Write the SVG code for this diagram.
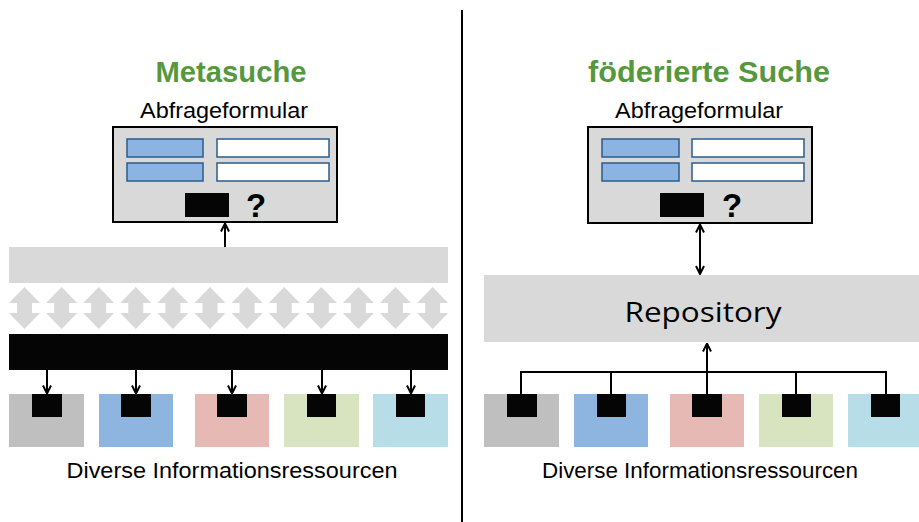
<svg xmlns="http://www.w3.org/2000/svg" width="919" height="522" viewBox="0 0 919 522">
<defs>
<style>
.title{font-family:"Liberation Sans",Arial,sans-serif;font-weight:bold;font-size:30px;fill:#55983E;text-anchor:middle}
.lbl{font-family:"Liberation Sans",Arial,sans-serif;font-size:22px;fill:#000;text-anchor:middle}
.form{fill:#D9D9D9;stroke:#000;stroke-width:2}
.fb{fill:#8DB3E2;stroke:#2A5C8C;stroke-width:1.5}
.fw{fill:#fff;stroke:#2A5C8C;stroke-width:1.5}
.blk{fill:#050505}
.q{font-family:"Liberation Sans",Arial,sans-serif;font-weight:bold;font-size:33px;fill:#000}
.conn{stroke:#000;stroke-width:2;fill:none}
.dbl{fill:#D9D9D9}
</style>
<marker id="ah" viewBox="0 0 10 10" refX="9" refY="5" markerWidth="10" markerHeight="10" markerUnits="userSpaceOnUse" orient="auto-start-reverse">
<polyline points="1,1 9,5 1,9" fill="none" stroke="#000" stroke-width="2"/>
</marker>
<path id="da" d="M0,287 L15.5,303 L7.5,303 L7.5,313 L15.5,313 L0,329 L-15.5,313 L-7.5,313 L-7.5,303 L-15.5,303 Z"/>
</defs>
<rect width="919" height="522" fill="#fff"/>

<line x1="462" y1="10" x2="462" y2="522" stroke="#000" stroke-width="2"/>

<g id="left-title"><text class="title" x="231" y="82" textLength="151" lengthAdjust="spacingAndGlyphs">Metasuche</text></g>
<g id="left-form">
<text class="lbl" x="224" y="118" textLength="168" lengthAdjust="spacingAndGlyphs">Abfrageformular</text>
<rect class="form" x="113" y="127" width="224" height="95"/>
<rect class="fb" x="127" y="139" width="76" height="18"/>
<rect class="fb" x="127" y="163" width="76" height="18"/>
<rect class="fw" x="217" y="139" width="112" height="18"/>
<rect class="fw" x="217" y="163" width="112" height="18"/>
<rect class="blk" x="185" y="193" width="44" height="24"/>
<text class="q" x="246" y="217">?</text>
</g>
<g id="left-band"><rect fill="#D9D9D9" x="9" y="247" width="439" height="36"/></g>
<g id="left-arrows" class="dbl">
<use href="#da" x="24.5"/><use href="#da" x="61.6"/><use href="#da" x="98.7"/><use href="#da" x="135.8"/>
<use href="#da" x="172.9"/><use href="#da" x="210"/><use href="#da" x="247.1"/><use href="#da" x="284.2"/>
<use href="#da" x="321.3"/><use href="#da" x="358.4"/><use href="#da" x="395.5"/><use href="#da" x="432.6"/>
</g>
<g id="left-bar"><rect class="blk" x="9" y="334" width="439" height="36"/></g>
<g id="left-src1"><rect fill="#BFBFBF" x="9" y="394" width="75" height="53"/><rect class="blk" x="32" y="394" width="30" height="23"/></g>
<g id="left-src2"><rect fill="#8EB4E0" x="99" y="394" width="74" height="53"/><rect class="blk" x="121" y="394" width="30" height="23"/></g>
<g id="left-src3"><rect fill="#E6B9B5" x="195" y="394" width="74" height="53"/><rect class="blk" x="217" y="394" width="30" height="23"/></g>
<g id="left-src4"><rect fill="#D7E4BF" x="284" y="394" width="75" height="53"/><rect class="blk" x="307" y="394" width="29" height="23"/></g>
<g id="left-src5"><rect fill="#B6DDE8" x="373" y="394" width="75" height="53"/><rect class="blk" x="396" y="394" width="29" height="23"/></g>
<g id="left-caption"><text class="lbl" x="232" y="478" textLength="331" lengthAdjust="spacingAndGlyphs">Diverse Informationsressourcen</text></g>

<g id="right-title"><text class="title" x="709" y="82" textLength="242" lengthAdjust="spacingAndGlyphs">föderierte Suche</text></g>
<g id="right-form">
<text class="lbl" x="699" y="118" textLength="168" lengthAdjust="spacingAndGlyphs">Abfrageformular</text>
<rect class="form" x="588" y="127" width="224" height="96"/>
<rect class="fb" x="602" y="139" width="77" height="18"/>
<rect class="fb" x="602" y="163" width="77" height="18"/>
<rect class="fw" x="692" y="139" width="112" height="18"/>
<rect class="fw" x="692" y="163" width="112" height="18"/>
<rect class="blk" x="660" y="193" width="44" height="24"/>
<text class="q" x="722" y="217">?</text>
</g>
<g id="repository">
<rect fill="#D9D9D9" x="484" y="275" width="435" height="67"/>
<text x="703" y="322" font-family="'Open Sans','Liberation Sans',sans-serif" font-size="28" fill="#000" text-anchor="middle" textLength="157" lengthAdjust="spacingAndGlyphs">Repository</text>
</g>
<g id="right-src1"><rect fill="#BFBFBF" x="484" y="394" width="75" height="53"/><rect class="blk" x="507" y="394" width="30" height="23"/></g>
<g id="right-src2"><rect fill="#8EB4E0" x="574" y="394" width="74" height="53"/><rect class="blk" x="597" y="394" width="29" height="23"/></g>
<g id="right-src3"><rect fill="#E6B9B5" x="670" y="394" width="74" height="53"/><rect class="blk" x="692" y="394" width="30" height="23"/></g>
<g id="right-src4"><rect fill="#D7E4BF" x="759" y="394" width="74" height="53"/><rect class="blk" x="782" y="394" width="29" height="23"/></g>
<g id="right-src5"><rect fill="#B6DDE8" x="848" y="394" width="71" height="53"/><rect class="blk" x="871" y="394" width="29" height="23"/></g>
<g id="right-caption"><text class="lbl" x="700" y="478" textLength="316" lengthAdjust="spacingAndGlyphs">Diverse Informationsressourcen</text></g>

<g id="connectors" class="conn">
<line x1="225" y1="247" x2="225" y2="223.5" marker-end="url(#ah)"/>
<line x1="47" y1="370" x2="47" y2="393.5" marker-end="url(#ah)"/>
<line x1="136" y1="370" x2="136" y2="393.5" marker-end="url(#ah)"/>
<line x1="232" y1="370" x2="232" y2="393.5" marker-end="url(#ah)"/>
<line x1="322" y1="370" x2="322" y2="393.5" marker-end="url(#ah)"/>
<line x1="411" y1="370" x2="411" y2="393.5" marker-end="url(#ah)"/>
<line x1="700" y1="224.5" x2="700" y2="274" marker-start="url(#ah)" marker-end="url(#ah)"/>
<polyline points="521,394 521,372 886,372 886,394"/>
<line x1="611" y1="372" x2="611" y2="394"/>
<line x1="796" y1="372" x2="796" y2="394"/>
<line x1="707" y1="394" x2="707" y2="343.5" marker-end="url(#ah)"/>
</g>
</svg>
